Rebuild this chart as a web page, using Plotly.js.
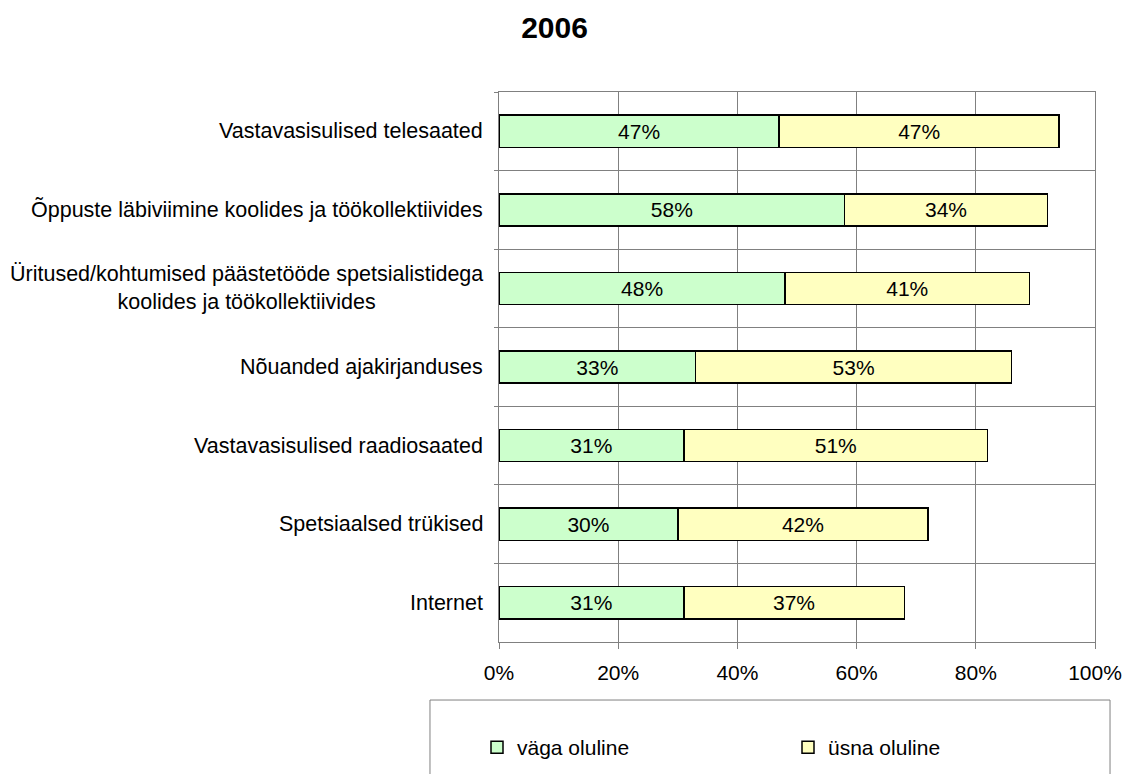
<!DOCTYPE html>
<html>
<head>
<meta charset="utf-8">
<script src="https://cdn.plot.ly/plotly-3.0.1.min.js"></script>
<style>html,body{margin:0;padding:0;background:#fff;}#chart{width:1123px;height:774px;}</style>
</head>
<body>
<div id="chart"></div>
<script>
const categories = [
  "Vastavasisulised telesaated",
  "Õppuste läbiviimine koolides ja töökollektiivides",
  "Üritused/kohtumised päästetööde spetsialistidega<br>koolides ja töökollektiivides",
  "Nõuanded ajakirjanduses",
  "Vastavasisulised raadiosaated",
  "Spetsiaalsed trükised",
  "Internet"
];
const vagaOluline = [47, 58, 48, 33, 31, 30, 31];
const usnaOluline = [47, 34, 41, 53, 51, 42, 37];
const seriesNames = ["väga oluline", "üsna oluline"];
const xTickVals = [0, 20, 40, 60, 80, 100];
const chartTitle = "2006";

const FONT = "Liberation Sans, Arial, sans-serif";
const FS = 21;

function barTrace(vals, name, color, legendId) {
  return {
    type: "bar",
    orientation: "h",
    y: categories,
    x: vals,
    name: name,
    legend: legendId,
    marker: {color: color, line: {color: "#000000", width: 1.5}},
    text: vals.map(v => v + "%"),
    textposition: "inside",
    insidetextanchor: "middle",
    textangle: 0,
    constraintext: "none",
    textfont: {family: FONT, size: FS, color: "#000000"},
    hoverinfo: "skip"
  };
}

const data = [
  barTrace(vagaOluline, seriesNames[0], "#CCFFCC", "legend"),
  barTrace(usnaOluline, seriesNames[1], "#FFFFC0", "legend2")
];

const annotations = categories.map(c => ({
  xref: "paper", yref: "y",
  x: -0.0235, y: c,
  xanchor: "right", yanchor: "middle",
  text: c, align: "center", showarrow: false,
  font: {family: FONT, size: 21.5, color: "#000000"}
}));

function legendAt(xPix) {
  return {
    orientation: "h",
    xref: "container", x: xPix / 1123, xanchor: "left",
    yref: "container", y: 1 - 727 / 774, yanchor: "top",
    bgcolor: "rgba(0,0,0,0)", borderwidth: 0,
    font: {family: FONT, size: FS, color: "#000000"},
    itemclick: false, itemdoubleclick: false
  };
}

const layout = {
  width: 1123, height: 774,
  margin: {l: 499, r: 28, t: 92, b: 132, pad: 0, autoexpand: false},
  paper_bgcolor: "#ffffff",
  plot_bgcolor: "#ffffff",
  font: {family: FONT, size: FS, color: "#000000"},
  title: {text: "<b>" + chartTitle + "</b>", x: 0.4938, xref: "container", xanchor: "center",
          y: 0.9645, yref: "container", yanchor: "middle",
          font: {family: FONT, size: 30, color: "#000000"}},
  barmode: "stack",
  bargap: 0.59,
  showlegend: true,
  xaxis: {
    range: [0, 100], tickvals: xTickVals, ticktext: xTickVals.map(v => v + "%"),
    showgrid: true, gridcolor: "#808080", gridwidth: 1,
    showline: true, linecolor: "#808080", linewidth: 1, mirror: true,
    ticks: "outside", ticklen: 6, tickcolor: "#808080",
    ticklabelstandoff: 6,
    tickfont: {family: FONT, size: FS, color: "#000000"},
    zeroline: false, fixedrange: true
  },
  yaxis: {
    type: "category", categoryorder: "array", categoryarray: categories,
    autorange: "reversed",
    showticklabels: false,
    tickson: "boundaries", ticks: "outside", ticklen: 4, tickcolor: "#808080",
    showgrid: true, gridcolor: "#808080", gridwidth: 1,
    showline: true, linecolor: "#808080", linewidth: 1, mirror: true,
    zeroline: false, fixedrange: true
  },
  legend: legendAt(477),
  legend2: legendAt(788),
  shapes: [{
    type: "rect", xref: "paper", yref: "paper",
    x0: -0.1158, x1: 1.0252, y0: -0.1055, y1: -0.26,
    line: {color: "#808080", width: 1}, fillcolor: "rgba(0,0,0,0)", layer: "below"
  }],
  annotations: annotations
};

Plotly.newPlot("chart", data, layout, {displayModeBar: false, staticPlot: true});
</script>
</body>
</html>
